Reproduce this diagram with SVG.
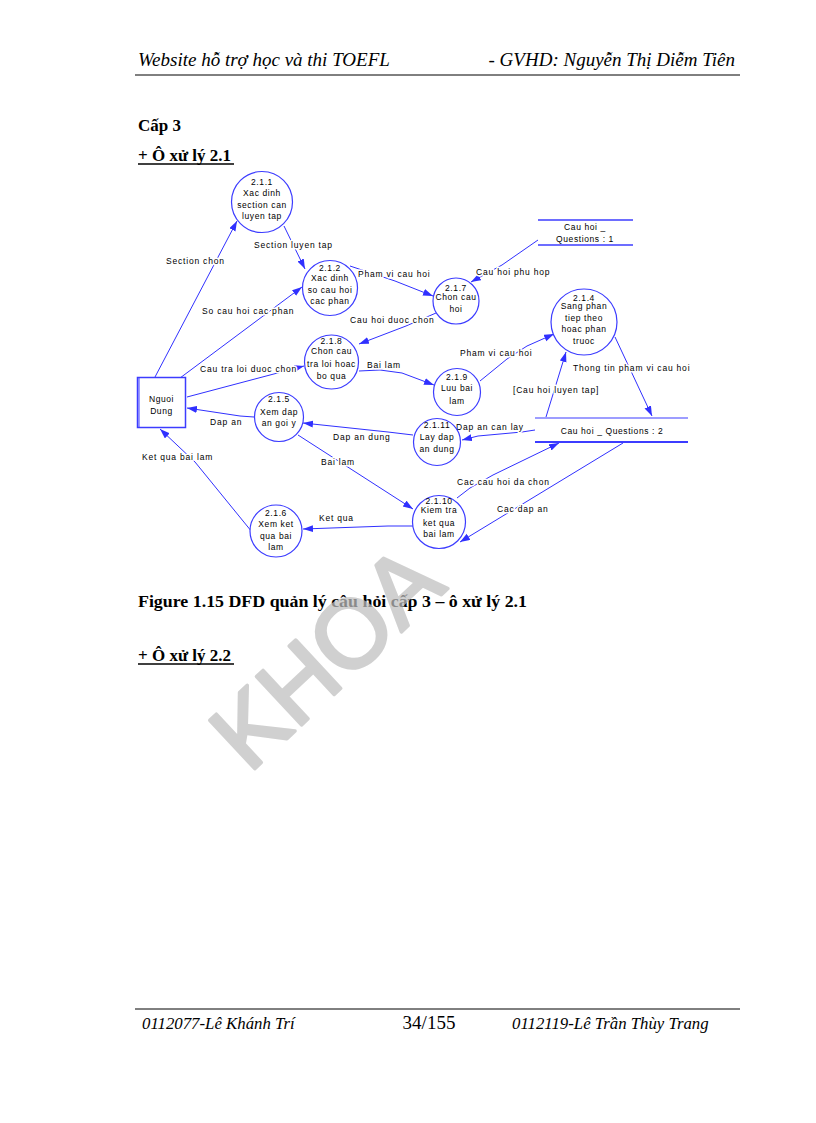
<svg xmlns="http://www.w3.org/2000/svg" width="816" height="1123" viewBox="0 0 816 1123">
<style>
.hd{font-family:"Liberation Serif","Times New Roman",serif;font-style:italic;font-size:19px;fill:#000}
.ft{font-family:"Liberation Serif","Times New Roman",serif;font-style:italic;font-size:16.8px;fill:#000}
.pg{font-family:"Liberation Serif","Times New Roman",serif;font-size:19px;fill:#000}
.bt{font-family:"Liberation Serif","Times New Roman",serif;font-weight:bold;font-size:17px;fill:#000}
.lb{font-family:"Liberation Sans",Arial,sans-serif;font-size:8.5px;letter-spacing:0.8px;fill:#000;stroke:#fff;stroke-width:3px;paint-order:stroke;stroke-linejoin:round}
.nt{font-family:"Liberation Sans",Arial,sans-serif;font-size:8.5px;letter-spacing:0.6px;fill:#000;text-anchor:middle}
.pr{fill:#fff;stroke:#3c3cff;stroke-width:1.2}
.ds{stroke:#3c3cff;fill:none}
.cn{fill:none;stroke:#3030ff;stroke-width:1}
.wm{font-family:"Liberation Sans",Arial,sans-serif;font-size:96px;fill:#bfbfbf;stroke:#bfbfbf;stroke-width:3.5px;stroke-linejoin:round;opacity:0.72}
</style>
<defs>
<marker id="ah" markerUnits="userSpaceOnUse" markerWidth="11" markerHeight="8" refX="10" refY="3.5" orient="auto">
<path d="M0,0 L10,3.5 L0,7 z" fill="#3030ff"/>
</marker>
</defs>
<rect width="816" height="1123" fill="#fff"/>

<!-- header -->
<text class="hd" x="138" y="66">Website hỗ trợ học và thi TOEFL</text>
<text class="hd" x="735" y="66" text-anchor="end">-  GVHD: Nguyễn Thị Diễm Tiên</text>
<line x1="135" y1="75" x2="740" y2="75" stroke="#000" stroke-width="1"/>

<text class="bt" x="138" y="131">Cấp 3</text>
<text class="bt" x="138" y="161">+ Ô xử lý 2.1</text>
<line x1="138" y1="164" x2="234" y2="164" stroke="#000" stroke-width="1.5"/>

<!-- connectors -->
<g id="connectors">
<path class="cn" d="M155,377 L237,221" marker-end="url(#ah)"/>
<path class="cn" d="M284,226 L305,269" marker-end="url(#ah)"/>
<path class="cn" d="M180,378 L302,287" marker-end="url(#ah)"/>
<path class="cn" d="M350,266 L395,281 L433,296" marker-end="url(#ah)"/>
<path class="cn" d="M538,240 L502,265 L471,282" marker-end="url(#ah)"/>
<path class="cn" d="M436,313 L406,326 L359,344" marker-end="url(#ah)"/>
<path class="cn" d="M187,397 L304,366" marker-end="url(#ah)"/>
<path class="cn" d="M359,371 L380,370 L402,373 L434,385" marker-end="url(#ah)"/>
<path class="cn" d="M480,381 L507,359 L527,346 L554,334" marker-end="url(#ah)"/>
<path class="cn" d="M546,417 L566,352" marker-end="url(#ah)"/>
<path class="cn" d="M615,337 L652,416" marker-end="url(#ah)"/>
<path class="cn" d="M535,430 L522,432 L478,436 L462,440" marker-end="url(#ah)"/>
<path class="cn" d="M413,435 L388,432 L303,423" marker-end="url(#ah)"/>
<path class="cn" d="M254,417 L240,416 L187,408" marker-end="url(#ah)"/>
<path class="cn" d="M298,435 L413,509" marker-end="url(#ah)"/>
<path class="cn" d="M457,498 L470,488 L493,475 L559,443" marker-end="url(#ah)"/>
<path class="cn" d="M623,443 L460,542" marker-end="url(#ah)"/>
<path class="cn" d="M413,526 L388,526 L303,529" marker-end="url(#ah)"/>
<path class="cn" d="M252,532 L195,462 L160,429" marker-end="url(#ah)"/>

<text class="lb" x="166" y="264">Section chon</text>
<text class="lb" x="254" y="248">Section luyen tap</text>
<text class="lb" x="202" y="314">So cau hoi cac phan</text>
<text class="lb" x="358" y="277">Pham vi cau hoi</text>
<text class="lb" x="476" y="275">Cau hoi phu hop</text>
<text class="lb" x="350" y="323">Cau hoi duoc chon</text>
<text class="lb" x="200" y="372">Cau tra loi duoc chon</text>
<text class="lb" x="367" y="368">Bai lam</text>
<text class="lb" x="460" y="356">Pham vi cau hoi</text>
<text class="lb" x="513" y="393">[Cau hoi luyen tap]</text>
<text class="lb" x="573" y="371">Thong tin pham vi cau hoi</text>
<text class="lb" x="456" y="430">Dap an can lay</text>
<text class="lb" x="333" y="440">Dap an dung</text>
<text class="lb" x="210" y="425">Dap an</text>
<text class="lb" x="321" y="465">Bai lam</text>
<text class="lb" x="457" y="485">Cac cau hoi da chon</text>
<text class="lb" x="497" y="512">Cac dap an</text>
<text class="lb" x="319" y="521">Ket qua</text>
<text class="lb" x="142" y="460">Ket qua bai lam</text>
</g>

<!-- external entity -->
<g id="nguoi-dung">
<rect x="137.5" y="377.5" width="48" height="50" fill="#fff" stroke="#3c3cff" stroke-width="1.5"/>
<line x1="139" y1="378" x2="139" y2="427" stroke="#3c3cff" stroke-width="1"/>
<text class="nt" x="161.5" y="402">Nguoi</text>
<text class="nt" x="161.5" y="414">Dung</text>
</g>

<!-- data stores -->
<g id="store-1">
<line class="ds" x1="538" y1="220" x2="633" y2="220" stroke-width="1.5"/>
<line class="ds" x1="538" y1="245" x2="633" y2="245" stroke-width="1.5"/>
<text class="nt" x="585" y="230">Cau hoi _</text>
<text class="nt" x="585" y="242">Questions : 1</text>
</g>
<g id="store-2">
<line class="ds" x1="535" y1="418" x2="688" y2="418" stroke-width="1.2"/>
<line class="ds" x1="535" y1="442" x2="688" y2="442" stroke-width="2"/>
<text class="nt" x="612" y="434">Cau hoi _ Questions : 2</text>
</g>

<!-- processes -->
<g id="p211">
<circle class="pr" cx="262" cy="202" r="30.5"/>
<text class="nt" x="262" y="185">2.1.1</text>
<text class="nt" x="262" y="196">Xac dinh</text>
<text class="nt" x="262" y="207.5">section can</text>
<text class="nt" x="262" y="219">luyen tap</text>
</g>
<g id="p212">
<circle class="pr" cx="330" cy="288" r="27.5"/>
<text class="nt" x="330" y="271">2.1.2</text>
<text class="nt" x="330" y="281">Xac dinh</text>
<text class="nt" x="330" y="292.5">so cau hoi</text>
<text class="nt" x="330" y="304">cac phan</text>
</g>
<g id="p217">
<circle class="pr" cx="456" cy="301" r="23"/>
<text class="nt" x="456" y="291">2.1.7</text>
<text class="nt" x="456" y="300">Chon cau</text>
<text class="nt" x="456" y="312">hoi</text>
</g>
<g id="p214">
<circle class="pr" cx="584" cy="322" r="33"/>
<text class="nt" x="584" y="301">2.1.4</text>
<text class="nt" x="584" y="309">Sang phan</text>
<text class="nt" x="584" y="320.5">tiep theo</text>
<text class="nt" x="584" y="332">hoac phan</text>
<text class="nt" x="584" y="344">truoc</text>
</g>
<g id="p218">
<circle class="pr" cx="331.5" cy="362" r="27"/>
<text class="nt" x="331.5" y="344">2.1.8</text>
<text class="nt" x="331.5" y="354">Chon cau</text>
<text class="nt" x="331.5" y="367">tra loi hoac</text>
<text class="nt" x="331.5" y="379">bo qua</text>
</g>
<g id="p219">
<circle class="pr" cx="457" cy="392" r="23.5"/>
<text class="nt" x="457" y="380">2.1.9</text>
<text class="nt" x="457" y="391">Luu bai</text>
<text class="nt" x="457" y="404">lam</text>
</g>
<g id="p215">
<circle class="pr" cx="279" cy="417" r="24.5"/>
<text class="nt" x="279" y="402">2.1.5</text>
<text class="nt" x="279" y="415">Xem dap</text>
<text class="nt" x="279" y="426">an goi y</text>
</g>
<g id="p2111">
<circle class="pr" cx="437" cy="442" r="23.5"/>
<text class="nt" x="437" y="428">2.1.11</text>
<text class="nt" x="437" y="440">Lay dap</text>
<text class="nt" x="437" y="452">an dung</text>
</g>
<g id="p2110">
<circle class="pr" cx="439" cy="522" r="26.5"/>
<text class="nt" x="439" y="504">2.1.10</text>
<text class="nt" x="439" y="513">Kiem tra</text>
<text class="nt" x="439" y="526">ket qua</text>
<text class="nt" x="439" y="537">bai lam</text>
</g>
<g id="p216">
<circle class="pr" cx="276" cy="531" r="26"/>
<text class="nt" x="276" y="516">2.1.6</text>
<text class="nt" x="276" y="527">Xem ket</text>
<text class="nt" x="276" y="539">qua bai</text>
<text class="nt" x="276" y="550">lam</text>
</g>

<!-- caption -->
<text class="bt" x="138" y="607" textLength="389" lengthAdjust="spacingAndGlyphs">Figure 1.15 DFD quản lý câu hỏi cấp 3 – ô xử lý 2.1</text>
<text class="bt" x="138" y="661">+ Ô xử lý 2.2</text>
<line x1="138" y1="664" x2="234" y2="664" stroke="#000" stroke-width="1.5"/>

<!-- footer -->
<line x1="135" y1="1009" x2="740" y2="1009" stroke="#000" stroke-width="1"/>
<text class="ft" x="142" y="1029">0112077-Lê Khánh Trí</text>
<text class="pg" x="429" y="1029" text-anchor="middle">34/155</text>
<text class="ft" x="512" y="1029">0112119-Lê Trần Thùy Trang</text>

<!-- watermark -->
<text class="wm" transform="translate(249,774) rotate(-43)" x="0" y="0">KHOA</text>
</svg>
